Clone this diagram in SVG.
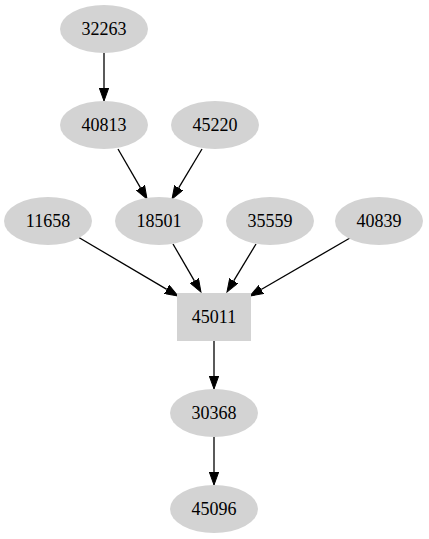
<svg xmlns="http://www.w3.org/2000/svg" width="429" height="539" viewBox="0 0 429 539">
<style>
.n{fill:#d3d3d3;stroke:none}
.t{font-family:"Liberation Serif","Times New Roman",serif;font-size:18px;text-anchor:middle;fill:#000}
.e{stroke:#000;stroke-width:1.3;fill:none;marker-end:url(#a)}
</style>
<defs>
<marker id="a" markerUnits="userSpaceOnUse" markerWidth="14" markerHeight="10" refX="0" refY="5" orient="auto" viewBox="0 0 14 10">
<path d="M0,0.3 L13,5 L0,9.7 Z" fill="#000" stroke="#000" stroke-width="1"/>
</marker>
</defs>
<rect width="429" height="539" fill="#fff"/>
<g id="edges">
<path class="e" d="M104,53 L104,88"/>
<path class="e" d="M118,149 L140.5,187.8"/>
<path class="e" d="M202,149 L178.7,187.9"/>
<path class="e" d="M78,237 L166.8,289.4"/>
<path class="e" d="M173,244 L194.4,280.8"/>
<path class="e" d="M256,244 L233.7,280.9"/>
<path class="e" d="M350,238 L261.2,289.5"/>
<path class="e" d="M214,341 L214,376"/>
<path class="e" d="M214,437 L214,472"/>
</g>
<g id="n32263"><ellipse class="n" cx="104" cy="29" rx="44" ry="24"/><text class="t" x="104" y="35">32263</text></g>
<g id="n40813"><ellipse class="n" cx="104" cy="125" rx="44" ry="24"/><text class="t" x="104" y="131">40813</text></g>
<g id="n45220"><ellipse class="n" cx="215" cy="125" rx="44" ry="24"/><text class="t" x="215" y="131">45220</text></g>
<g id="n11658"><ellipse class="n" cx="48" cy="221" rx="44" ry="24"/><text class="t" x="48" y="227">11658</text></g>
<g id="n18501"><ellipse class="n" cx="159" cy="221" rx="44" ry="24"/><text class="t" x="159" y="227">18501</text></g>
<g id="n35559"><ellipse class="n" cx="270" cy="221" rx="44" ry="24"/><text class="t" x="270" y="227">35559</text></g>
<g id="n40839"><ellipse class="n" cx="379" cy="221" rx="44" ry="24"/><text class="t" x="379" y="227">40839</text></g>
<g id="n45011"><rect class="n" x="177" y="293" width="74" height="48"/><text class="t" x="214" y="323">45011</text></g>
<g id="n30368"><ellipse class="n" cx="214" cy="413" rx="44" ry="24"/><text class="t" x="214" y="419">30368</text></g>
<g id="n45096"><ellipse class="n" cx="214" cy="509" rx="44" ry="24"/><text class="t" x="214" y="515">45096</text></g>
</svg>
